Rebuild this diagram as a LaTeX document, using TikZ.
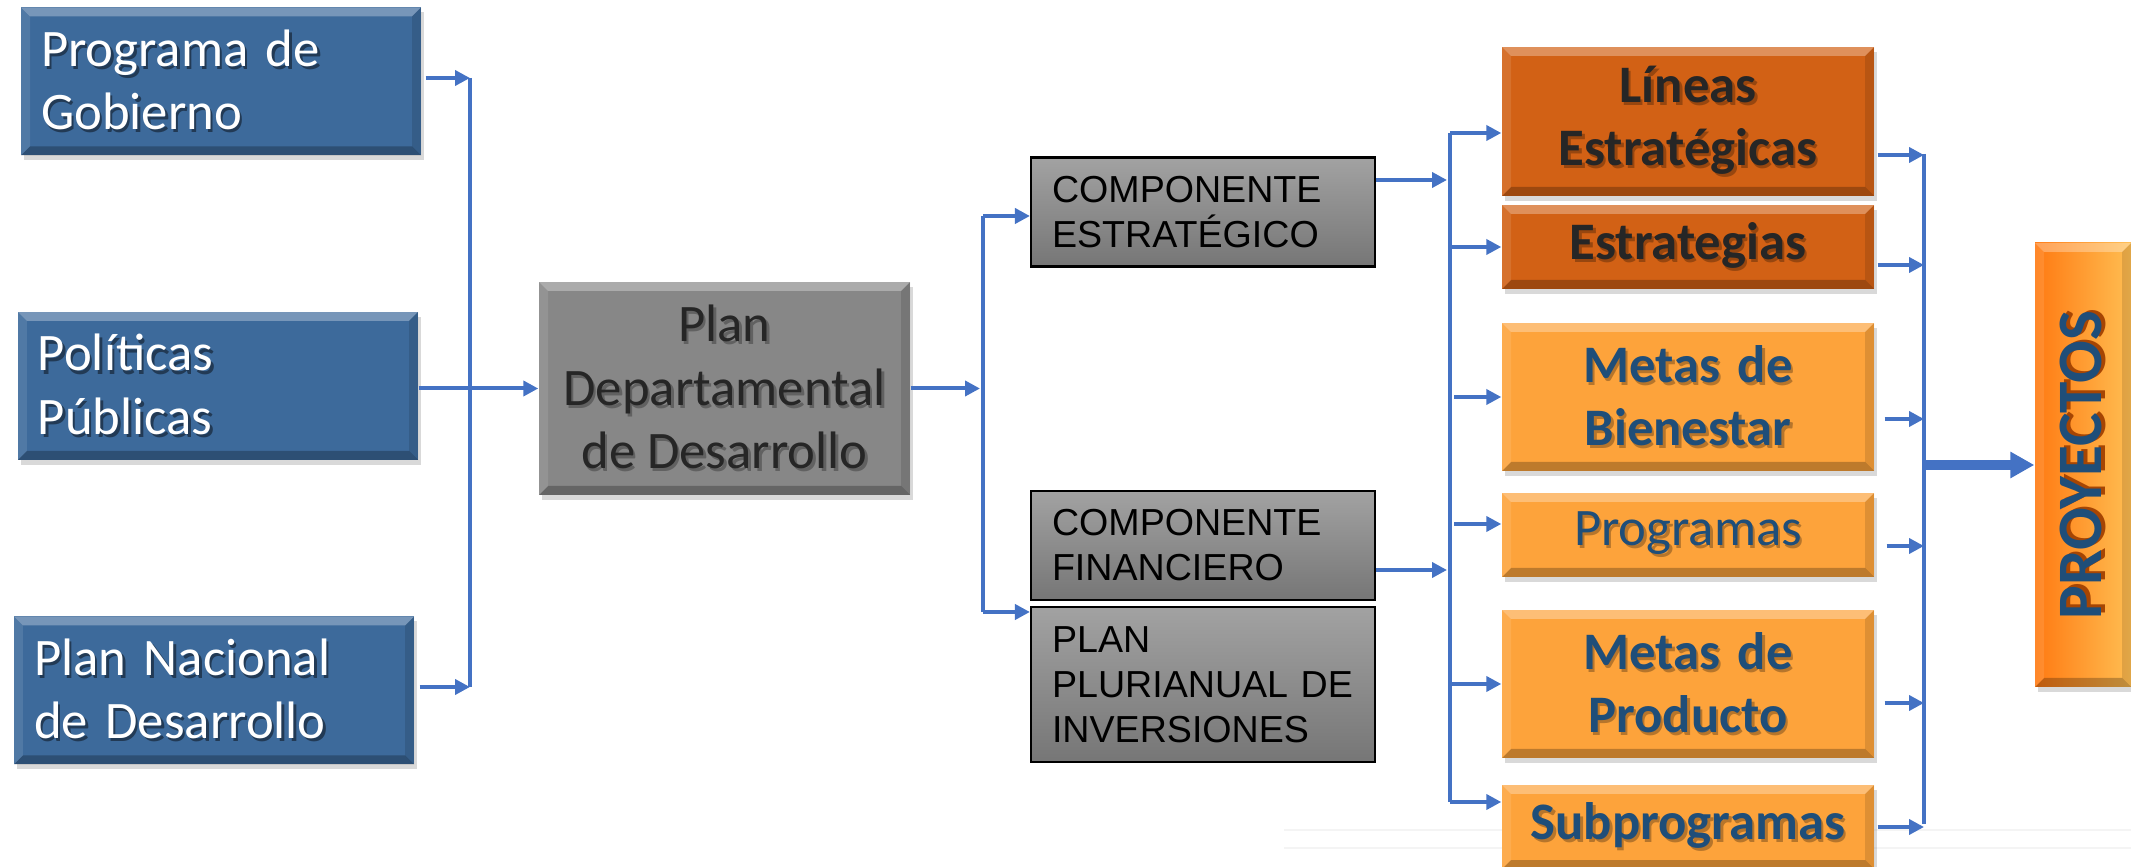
\documentclass[tikz,border=0pt]{standalone}
\usepackage{fontspec}
\setmainfont{Carlito}
\newfontfamily\arialfont{Liberation Sans}
\usetikzlibrary{positioning,calc,shadows,arrows.meta}

\definecolor{boxblue}{HTML}{3D6A9B}
\definecolor{plangray}{HTML}{878787}
\definecolor{comptop}{HTML}{A2A2A2}
\definecolor{compbot}{HTML}{767676}
\definecolor{darkorange}{HTML}{D26115}
\definecolor{lightorange}{HTML}{FDA33B}
\definecolor{projleft}{HTML}{FF7A12}
\definecolor{projmid}{HTML}{FF6A05}
\definecolor{projright}{HTML}{FFBE52}
\definecolor{txtblue}{HTML}{1F4E79}
\definecolor{txtdark}{HTML}{262626}
\definecolor{linkblue}{HTML}{4472C4}
\colorlet{shcol}{black}

% text with a small shadow behind it
\newcommand{\shd}[1]{\makebox[0pt][l]{\hspace{0.7pt}\raisebox{-0.9pt}{\color{shcol}#1}}#1}

\tikzset{bevel/.style={path picture={
           \fill[white,opacity=0.3] (path picture bounding box.north west) -- (path picture bounding box.north east)
             -- ++(-0.09,-0.09) -- ([shift={(0.09,-0.09)}]path picture bounding box.north west) -- cycle;
           \fill[black,opacity=0.25] (path picture bounding box.south west) -- (path picture bounding box.south east)
             -- ++(-0.09,0.09) -- ([shift={(0.09,0.09)}]path picture bounding box.south west) -- cycle;
           \fill[black,opacity=0.12] (path picture bounding box.north east) -- (path picture bounding box.south east)
             -- ++(-0.09,0.09) -- ([shift={(-0.09,-0.09)}]path picture bounding box.north east) -- cycle;
           \fill[white,opacity=0.1] (path picture bounding box.north west) -- (path picture bounding box.south west)
             -- ++(0.09,0.09) -- ([shift={(0.09,-0.09)}]path picture bounding box.north west) -- cycle;}},
         base/.style={rectangle,bevel,drop shadow={opacity=0.3,shadow xshift=0.03cm,shadow yshift=-0.05cm},
           font=\fontsize{15}{18}\selectfont},
         source/.style={base,fill=boxblue,text=white,text width=3.6cm,inner xsep=0.2cm,minimum height=1.48cm,align=left,
           execute at begin node={\colorlet{shcol}{boxblue!55!black}}},
         plan/.style={base,fill=plangray,text=txtdark,minimum width=3.71cm,minimum height=2.13cm,align=center,
           execute at begin node={\colorlet{shcol}{plangray!72!black}}},
         comp/.style={draw=black,line width=0.6pt,top color=comptop,bottom color=compbot,text width=3.02cm,
           inner xsep=0.21cm,minimum height=1.09cm,align=left,font=\arialfont\fontsize{10.7}{12.8}\selectfont},
         goal/.style={base,text width=3.72cm,inner xsep=0pt,align=center,font=\bfseries\fontsize{15}{18}\selectfont},
         dark/.style={goal,fill=darkorange,text=txtdark,execute at begin node={\colorlet{shcol}{darkorange!72!black}}},
         light/.style={goal,fill=lightorange,text=txtblue,execute at begin node={\colorlet{shcol}{lightorange!72!black}}},
         link/.style={linkblue,line width=0.04cm,-{Triangle[length=0.15cm,width=0.15cm]}},
         bus/.style={linkblue,line width=0.04cm},
         bigarrow/.style={linkblue,line width=0.1cm,-{Triangle[length=0.24cm,width=0.25cm]}}
}

\begin{document}
\begin{tikzpicture}
  \useasboundingbox (0,0) rectangle (21.31,-8.67);
  % faint lines at the bottom
  \draw[gray!9,line width=0.02cm] (12.84,-8.30) -- (21.31,-8.30);
  \draw[gray!9,line width=0.02cm] (12.84,-8.48) -- (21.31,-8.48);

  \node[source] (gob) at (2.21,-0.815) {\shd{Programa de}\\\shd{Gobierno}};
  \node[source] (pol) at (2.18,-3.86) {\shd{Políticas}\\\shd{Públicas}};
  \node[source] (pnd) at (2.14,-6.905) {\shd{Plan Nacional}\\\shd{de Desarrollo}};
  \node[plan] (pdd) at (7.245,-3.885) {\shd{Plan}\\\shd{Departamental}\\\shd{de Desarrollo}};

  \node[comp] (cest) at (12.03,-2.12) {COMPONENTE\\ESTRATÉGICO};
  \node[comp] (cfin) at (12.03,-5.455) {COMPONENTE\\FINANCIERO};
  \node[comp, minimum height=1.55cm, below=0.05cm of cfin] (ppi) {PLAN\\PLURIANUAL DE\\INVERSIONES};

  \node[dark, minimum height=1.49cm] (lin) at (16.88,-1.215) {\shd{Líneas}\\\shd{Estratégicas}};
  \node[dark, minimum height=0.84cm] (est) at (16.88,-2.47) {\shd{Estrategias}};
  \node[light, minimum height=1.48cm] (mbi) at (16.88,-3.97) {\shd{Metas de}\\\shd{Bienestar}};
  \node[light, minimum height=0.84cm, font=\fontsize{15}{18}\selectfont] (prg) at (16.88,-5.35) {\shd{Programas}};
  \node[light, minimum height=1.48cm] (mpr) at (16.88,-6.84) {\shd{Metas de}\\\shd{Producto}};
  \node[light, minimum height=0.84cm] (sub) at (16.88,-8.27) {\shd{Subprogramas}};

  \node[base, left color=projleft, middle color=projmid, right color=projright, text=txtblue,
        minimum width=0.96cm, minimum height=4.44cm, inner sep=0pt,
        execute at begin node={\colorlet{shcol}{projmid!65!black}}] (proy) at (20.83,-4.65)
        {\rotatebox{90}{\fontsize{18}{20}\bfseries\selectfont\shd{PROYECTOS}}};

  \coordinate (b1top) at (4.70,-0.78);
  \coordinate (b1bot) at (4.70,-6.87);
  \coordinate (b2top) at (9.83,-2.16);
  \coordinate (b2bot) at (9.83,-6.12);
  \coordinate (b3top) at (14.50,-1.33);
  \coordinate (b3bot) at (14.50,-8.02);
  \coordinate (b4top) at (19.24,-1.54);
  \coordinate (b4bot) at (19.24,-8.24);

  \draw[bus] (b1top) -- (b1bot);
  \draw[link] ([xshift=0.04cm]gob.east |- b1top) -- (b1top);
  \draw[link] ([xshift=0.05cm]pnd.east |- b1bot) -- (b1bot);
  \draw[link] (pol.east |- pdd.west) -- (pdd.west);

  \draw[bus] (b2top) -- (b2bot);
  \draw[link] (pdd.east) -- ([xshift=-0.03cm]pdd.east -| b2top);
  \draw[link] (b2top) -- (b2top -| cest.west);
  \draw[link] (b2bot) -- (b2bot -| ppi.west);

  \draw[bus] (b3top) -- (b3bot);
  \draw[link] ([yshift=0.32cm]cest.east) -- ([xshift=-0.03cm,yshift=0.32cm]cest.east -| b3top);
  \draw[link] ([yshift=-0.245cm]cfin.east) -- ([xshift=-0.03cm,yshift=-0.245cm]cfin.east -| b3top);
  \draw[link] (b3top) -- (b3top -| lin.west);
  \draw[link] (est.west -| b3top) -- (est.west);
  \draw[link] ([xshift=0.04cm]mbi.west -| b3top) -- (mbi.west);
  \draw[link] ([xshift=0.04cm,yshift=0.11cm]prg.west -| b3top) -- ([yshift=0.11cm]prg.west);
  \draw[link] (mpr.west -| b3top) -- (mpr.west);
  \draw[link] (b3bot) -- (b3bot -| sub.west);

  \draw[bus] (b4top) -- (b4bot);
  \draw[link] ([xshift=0.03cm,yshift=-0.335cm]lin.east) -- ([yshift=-0.335cm]lin.east -| b4top);
  \draw[link] ([xshift=0.03cm,yshift=-0.18cm]est.east) -- ([yshift=-0.18cm]est.east -| b4top);
  \draw[link] ([xshift=0.1cm,yshift=-0.22cm]mbi.east) -- ([yshift=-0.22cm]mbi.east -| b4top);
  \draw[link] ([xshift=0.12cm,yshift=-0.11cm]prg.east) -- ([yshift=-0.11cm]prg.east -| b4top);
  \draw[link] ([xshift=0.1cm,yshift=-0.19cm]mpr.east) -- ([yshift=-0.19cm]mpr.east -| b4top);
  \draw[link] ([xshift=0.03cm]sub.east) -- (sub.east -| b4top);
  \draw[bigarrow] (b4top |- proy.west) -- (proy.west);
\end{tikzpicture}
\end{document}
